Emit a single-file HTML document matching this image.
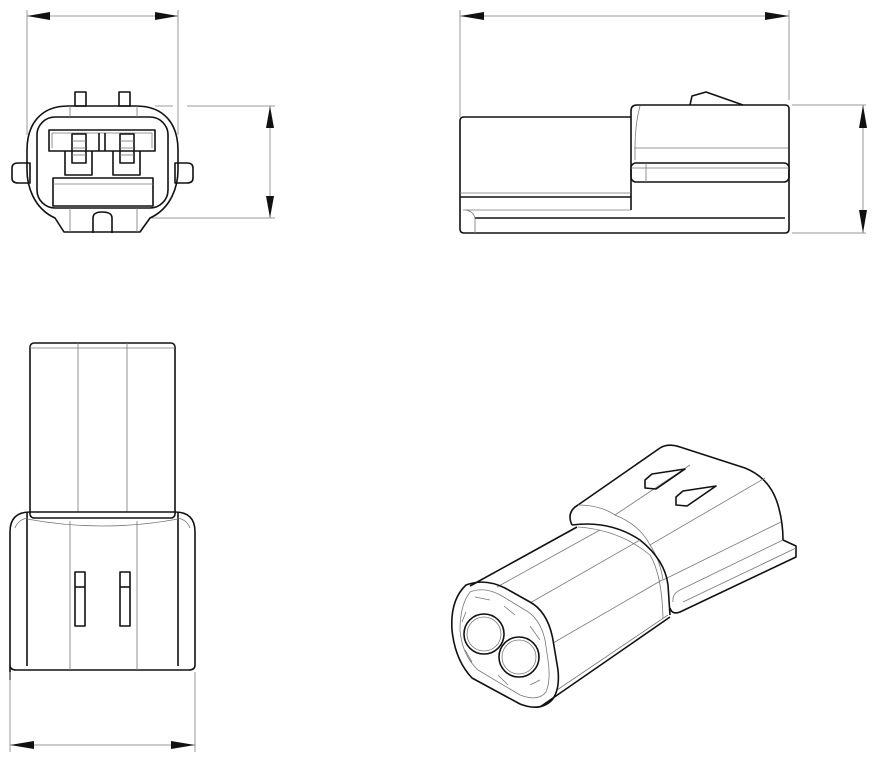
<!DOCTYPE html>
<html><head><meta charset="utf-8"><style>
html,body{margin:0;padding:0;background:#fff}
svg{display:block}
.k{stroke:#111;stroke-width:1.6;fill:none;stroke-linejoin:round}
.t{stroke:#777;stroke-width:.8;fill:none}
.d{stroke:#999;stroke-width:1;fill:none}
.a{fill:#111}
</style></head><body>
<svg width="889" height="768" viewBox="0 0 889 768">
<!-- FRONT VIEW -->
<line class="d" x1="27" y1="10" x2="27" y2="135"/><line class="d" x1="178" y1="10" x2="178" y2="135"/>
<line class="d" x1="27" y1="16" x2="178" y2="16"/>
<polygon class="a" points="27,16 50,12 50,20"/><polygon class="a" points="178,16 155,12 155,20"/>
<line class="d" x1="155" y1="106" x2="173" y2="106"/><line class="d" x1="187" y1="106" x2="275" y2="106"/>
<line class="d" x1="150" y1="218" x2="275" y2="218"/>
<line class="d" x1="270" y1="106" x2="270" y2="218"/>
<polygon class="a" points="270,106 266,128 274,128"/><polygon class="a" points="270,218 266,196 274,196"/>
<rect class="k" x="75" y="92" width="11" height="14"/><rect class="k" x="119" y="92" width="11" height="14"/>
<path class="k" d="M68,106 H136 C165,106 178,125 178,150 V170 C178,185 172,208 150,218 L140,232 H64 L55,218 C33,208 27,185 27,170 V150 C27,125 40,106 68,106 Z"/>
<path class="k" d="M12,168 Q12,163 18,163 H30 V183 H18 Q12,183 12,178 Z"/>
<path class="k" d="M193,168 Q193,163 187,163 H175 V183 H187 Q193,183 193,178 Z"/>
<rect class="k" x="37" y="117" width="131" height="91" rx="18"/>
<rect class="k" x="49" y="130" width="106" height="21"/>
<line class="t" x1="52" y1="133" x2="152" y2="133"/><line class="t" x1="52" y1="133" x2="52" y2="148"/><line class="t" x1="152" y1="133" x2="152" y2="148"/>
<line class="k" x1="99" y1="133" x2="99" y2="151"/><line class="k" x1="105" y1="133" x2="105" y2="151"/>
<path class="k" d="M65,151 V175 H92 V151 M113,151 V175 H140 V151"/>
<rect class="k" x="72" y="134" width="14" height="29"/><rect class="k" x="120" y="134" width="14" height="29"/>
<line class="t" x1="72" y1="141" x2="86" y2="141"/><line class="t" x1="72" y1="148" x2="86" y2="148"/><line class="t" x1="72" y1="155" x2="86" y2="155"/>
<line class="t" x1="120" y1="141" x2="134" y2="141"/><line class="t" x1="120" y1="148" x2="134" y2="148"/><line class="t" x1="120" y1="155" x2="134" y2="155"/>
<rect class="k" x="53" y="178" width="100" height="28"/><line class="t" x1="53" y1="184" x2="153" y2="184"/>
<path class="k" d="M93,233 V218 Q93,212 102,212 Q112,212 112,218 V233"/>
<line class="t" x1="70" y1="106" x2="70" y2="117"/><line class="t" x1="137" y1="106" x2="137" y2="117"/>
<line class="t" x1="70" y1="208" x2="70" y2="232"/><line class="t" x1="137" y1="208" x2="137" y2="232"/>
<!-- SIDE VIEW -->
<line class="d" x1="460" y1="10" x2="460" y2="117"/><line class="d" x1="789" y1="10" x2="789" y2="100"/>
<line class="d" x1="460" y1="16" x2="789" y2="16"/>
<polygon class="a" points="460,16 484,12 484,20"/><polygon class="a" points="789,16 765,12 765,20"/>
<line class="d" x1="792" y1="105" x2="866" y2="105"/><line class="d" x1="792" y1="233" x2="866" y2="233"/>
<line class="d" x1="863" y1="105" x2="863" y2="233"/>
<polygon class="a" points="863,105 859,128 867,128"/><polygon class="a" points="863,233 859,210 867,210"/>
<path class="k" d="M631,117 H464 Q460,117 460,121 V229 Q460,233 464,233 H785 Q789,233 789,229 V109 Q789,105 785,105 H637 Q631,105 631,111 V210"/>
<path class="k" d="M690,105 L692,96 L706,92 L743,105"/>
<line class="t" x1="460" y1="193" x2="631" y2="193"/><line class="k" x1="460" y1="197" x2="631" y2="197"/>
<line class="t" x1="463" y1="210" x2="631" y2="210"/>
<line class="k" x1="475" y1="218" x2="785" y2="218"/>
<path class="t" d="M466,210 Q475,212 475,220 V233"/>
<line class="t" x1="634" y1="148" x2="788" y2="148"/>
<path class="t" d="M640,106 Q635,125 635,148 V160"/>
<rect class="k" x="631" y="163" width="158" height="19" rx="5"/>
<line class="t" x1="646" y1="163" x2="646" y2="182"/><line class="t" x1="631" y1="168" x2="789" y2="168"/>
<!-- BOTTOM VIEW -->
<rect class="k" x="30" y="343" width="145" height="175" rx="4"/>
<line class="t" x1="78" y1="343" x2="78" y2="512"/><line class="t" x1="127" y1="343" x2="127" y2="512"/>
<line class="t" x1="30" y1="348" x2="175" y2="348"/>
<path class="k" d="M10,680 V532 Q10,512 30,512 H175 Q195,512 195,532 V665 Q195,670 189,670 H16 Q10,670 10,665"/>
<path class="k" d="M27,512 V666 M178,512 V666"/>
<path class="t" d="M15,528 Q18,520 27,518 M190,528 Q187,520 178,518 M27,519 Q102,533 178,519"/>
<line class="t" x1="70" y1="521" x2="70" y2="670"/><line class="t" x1="137" y1="521" x2="137" y2="670"/>
<rect class="k" x="75" y="572" width="10" height="54"/><line class="k" x1="75" y1="587" x2="85" y2="587"/>
<rect class="k" x="120" y="572" width="10" height="54"/><line class="k" x1="120" y1="587" x2="130" y2="587"/>
<line class="d" x1="10" y1="672" x2="10" y2="752"/><line class="d" x1="195" y1="672" x2="195" y2="752"/>
<line class="d" x1="10" y1="745" x2="195" y2="745"/>
<polygon class="a" points="10,745 34,741 34,749"/><polygon class="a" points="195,745 171,741 171,749"/>
<!-- ISOMETRIC -->
<g>
<path class="k" d="M572,525 Q566,512 578,505 L660,448 Q668,443 680,447 L745,468 Q770,478 778,505 Q783,522 783,540 L796,546 L796,557 L680,612 Q672,615 670,608"/>
<path class="t" d="M783,540 L680,590 Q672,594 673,602 M796,548 L683,602"/>
<path class="t" d="M578,505 Q600,505 615,515 L690,465 M615,515 Q640,525 650,545 L765,478 M650,545 Q660,560 663,580 L781,522"/>
<polygon class="k" points="645,480 652,474 685,469 656,489 645,488"/>
<polygon class="k" points="676,497 683,491 716,486 687,506 676,505"/>
<path class="k" d="M572,525 Q610,520 640,540 Q665,560 668,585 L670,615"/>
<path class="t" d="M578,527 Q620,530 650,555 Q662,575 663,618"/>
<path class="k" d="M470,586 L577,527"/>
<path class="k" d="M540,707 L670,617"/>
<path class="t" d="M497,587 L600,530 M530,603 L640,540 M553,643 L662,580 M557,690 L668,615"/>
<path class="k" d="M466,585 Q450,600 452,630 Q455,660 472,678 L520,704 Q540,712 552,700 Q560,690 558,670 L553,640 Q548,612 530,602 L505,588 Q485,578 466,585 Z"/>
<path class="t" d="M470,592 Q460,605 460,630 Q462,655 478,670 L520,695 Q538,702 546,692 Q551,680 548,660 L545,640 Q540,618 525,610 L502,596 Q485,586 470,592 Z"/>
<circle class="k" cx="484" cy="634" r="20"/><circle class="t" cx="484" cy="634" r="17"/>
<circle class="k" cx="519" cy="657" r="20"/><circle class="t" cx="519" cy="657" r="17"/>
<path class="t" d="M475,597 L490,600 M504,606 L515,615 M462,622 L466,612 M530,626 L540,640 M465,650 L472,662 M498,675 L508,685 M530,685 L540,680"/>
</g>
</svg>
</body></html>
